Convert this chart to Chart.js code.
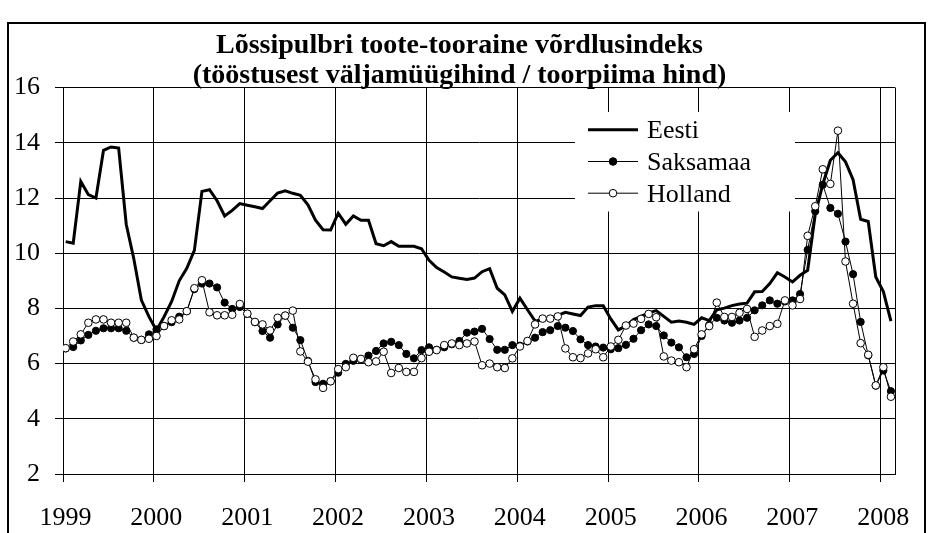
<!DOCTYPE html>
<html>
<head>
<meta charset="utf-8">
<script src="https://cdn.jsdelivr.net/npm/chart.js@4"></script>
<style>
    html, body { margin: 0; padding: 0; background: #fff; }
    #wrap { position: relative; width: 928px; height: 533px; }
</style>
</head>
<body>
<div id="wrap"><canvas id="chart" width="928" height="533"></canvas></div>
<script>
// ── Data (monthly, Jan 1999 – Feb 2008) ───────────────────

const years = ['1999', '2000', '2001', '2002', '2003', '2004', '2005', '2006', '2007', '2008'];

const eesti = [
    10.42, 10.36, 12.6, 12.12, 12.0, 13.73, 13.85, 13.81, 11.05, 9.8, 8.3, 7.7,
    7.2, 7.7, 8.25, 9.0, 9.45, 10.1, 12.24, 12.3, 11.9, 11.35, 11.55, 11.8,
    11.74, 11.68, 11.62, 11.9, 12.18, 12.26, 12.17, 12.1, 11.75, 11.2, 10.85, 10.84,
    11.45, 11.05, 11.35, 11.19, 11.19, 10.34, 10.27, 10.42, 10.25, 10.25, 10.25, 10.16,
    9.74, 9.48, 9.32, 9.14, 9.09, 9.05, 9.1, 9.33, 9.44, 8.73, 8.49, 7.89,
    8.37, 7.95, 7.54, 7.6, 7.63, 7.75, 7.86, 7.8, 7.74, 8.05, 8.1, 8.1,
    7.62, 7.22, 7.37, 7.6, 7.71, 7.84, 7.92, 7.71, 7.5, 7.54, 7.5, 7.42,
    7.66, 7.56, 7.95, 8.01, 8.1, 8.16, 8.19, 8.6, 8.61, 8.9, 9.29, 9.14,
    8.96, 9.2, 9.38, 11.4, 12.5, 13.37, 13.64, 13.31, 12.66, 11.23, 11.15, 9.14,
    8.61, 7.54
];

const saksamaa = [
    6.55, 6.6, 6.84, 7.04, 7.19, 7.28, 7.28, 7.28, 7.19, 6.94, 6.86, 7.06,
    7.24, 7.36, 7.5, 7.7, 7.9, 8.7, 8.9, 8.9, 8.76, 8.21, 7.98, 8.05,
    7.8, 7.5, 7.18, 6.94, 7.42, 7.74, 7.3, 6.85, 6.1, 5.33, 5.27, 5.36,
    5.67, 5.99, 6.1, 6.15, 6.29, 6.46, 6.73, 6.79, 6.67, 6.35, 6.19, 6.49,
    6.59, 6.5, 6.59, 6.7, 6.82, 7.12, 7.16, 7.26, 6.89, 6.5, 6.5, 6.67,
    6.65, 6.8, 6.94, 7.14, 7.21, 7.36, 7.3, 7.18, 6.88, 6.67, 6.62, 6.58,
    6.52, 6.56, 6.68, 6.9, 7.21, 7.42, 7.36, 7.02, 6.76, 6.59, 6.23, 6.35,
    7.0, 7.4, 7.66, 7.56, 7.48, 7.56, 7.66, 7.93, 8.11, 8.29, 8.17, 8.25,
    8.29, 8.52, 10.12, 11.52, 12.48, 11.64, 11.43, 10.42, 9.24, 7.51, 6.3, 5.2,
    5.75, 5.0
];

const holland = [
    6.56, 6.8, 7.06, 7.48, 7.6, 7.6, 7.48, 7.48, 7.48, 6.94, 6.86, 6.9,
    7.0, 7.36, 7.57, 7.6, 7.9, 8.73, 9.02, 7.86, 7.75, 7.75, 7.77, 8.16,
    7.81, 7.51, 7.42, 7.2, 7.66, 7.74, 7.92, 6.44, 6.07, 5.43, 5.12, 5.36,
    5.8, 5.87, 6.21, 6.17, 6.05, 6.08, 6.43, 5.66, 5.84, 5.7, 5.7, 6.2,
    6.43, 6.49, 6.67, 6.73, 6.67, 6.73, 6.8, 5.94, 6.0, 5.87, 5.84, 6.19,
    6.62, 6.82, 7.42, 7.63, 7.63, 7.71, 6.55, 6.23, 6.2, 6.37, 6.52, 6.23,
    6.62, 6.86, 7.38, 7.45, 7.62, 7.8, 7.68, 6.26, 6.11, 6.05, 5.87, 6.52,
    7.06, 7.36, 8.21, 7.69, 7.69, 7.84, 7.98, 6.97, 7.2, 7.36, 7.44, 8.29,
    8.11, 8.34, 10.63, 11.7, 13.04, 12.51, 14.44, 9.7, 8.17, 6.74, 6.32, 5.21,
    5.87, 4.8
];

const seriesNames = ['Eesti', 'Saksamaa', 'Holland'];

const titleLines = [
    'Lõssipulbri toote-tooraine võrdlusindeks',
    '(tööstusest väljamüügihind / toorpiima hind)'
];

// ── Helpers ───────────────────────────────────────────────

const FONT = 'Liberation Serif, Times New Roman, serif';

// points sit about a third of a month past the month boundary, like the source
function toPoints(values) {
    return values.map((v, i) => ({ x: i + 0.35, y: v }));
}

// ── Plugins ───────────────────────────────────────────────

const framePlugin = {
    id: 'frame',
    beforeDraw(chart) {
        const ctx = chart.ctx;
        ctx.save();
        ctx.fillStyle = '#fff';
        ctx.fillRect(0, 0, chart.width, chart.height);
        ctx.strokeStyle = '#000';
        ctx.lineWidth = 2;
        ctx.strokeRect(8, 23, 917, 600);
        ctx.restore();
    },
    beforeDatasetsDraw(chart) {
        const { ctx, chartArea } = chart;
        ctx.save();
        ctx.strokeStyle = '#000';
        ctx.lineWidth = 1;
        ctx.beginPath();
        ctx.moveTo(Math.round(chartArea.right) + 0.5, chartArea.top);
        ctx.lineTo(Math.round(chartArea.right) + 0.5, chartArea.bottom);
        ctx.stroke();
        ctx.restore();
    }
};

const legendPlugin = {
    id: 'insideLegend',
    afterDraw(chart) {
        const ctx = chart.ctx;
        ctx.save();
        ctx.fillStyle = '#fff';
        ctx.fillRect(575, 112, 220, 99.5);

        const rows = [
            { name: seriesNames[0], width: 3, marker: null },
            { name: seriesNames[1], width: 1, marker: '#000' },
            { name: seriesNames[2], width: 1, marker: '#fff' }
        ];
        rows.forEach((r, k) => {
            const base = 138.3 + k * 31.7;
            const ly = base - 8.5;
            ctx.strokeStyle = '#000';
            ctx.lineWidth = r.width;
            ctx.beginPath();
            ctx.moveTo(588, ly);
            ctx.lineTo(638, ly);
            ctx.stroke();
            if (r.marker) {
                ctx.lineWidth = 1;
                ctx.fillStyle = r.marker;
                ctx.beginPath();
                ctx.arc(613, ly, 3.8, 0, Math.PI * 2);
                ctx.fill();
                ctx.stroke();
            }
            ctx.fillStyle = '#000';
            ctx.font = '26px ' + FONT;
            ctx.textAlign = 'left';
            ctx.textBaseline = 'alphabetic';
            ctx.fillText(r.name, 647, base);
        });
        ctx.restore();
    }
};

// ── Chart ─────────────────────────────────────────────────

function renderChart() {
    const ctx = document.getElementById('chart').getContext('2d');

    new Chart(ctx, {
        type: 'line',
        plugins: [framePlugin, legendPlugin],
        data: {
            datasets: [
                {
                    label: seriesNames[0],
                    data: toPoints(eesti),
                    borderColor: '#000',
                    borderWidth: 3,
                    pointRadius: 0,
                    tension: 0,
                    order: 3
                },
                {
                    label: seriesNames[1],
                    data: toPoints(saksamaa),
                    borderColor: '#000',
                    borderWidth: 1,
                    pointRadius: 3.6,
                    pointBackgroundColor: '#000',
                    pointBorderColor: '#000',
                    pointBorderWidth: 1,
                    tension: 0,
                    order: 2
                },
                {
                    label: seriesNames[2],
                    data: toPoints(holland),
                    borderColor: '#000',
                    borderWidth: 1,
                    pointRadius: 3.8,
                    pointBackgroundColor: '#fff',
                    pointBorderColor: '#000',
                    pointBorderWidth: 1,
                    tension: 0,
                    order: 1
                }
            ]
        },
        options: {
            responsive: false,
            animation: false,
            devicePixelRatio: 1,
            layout: { padding: { left: 8, right: 17, top: 0, bottom: 0 } },
            plugins: {
                legend:  { display: false },
                tooltip: { enabled: false },
                title: {
                    display: true,
                    text: titleLines,
                    color: '#000',
                    font: { family: FONT, size: 28, weight: 'bold', lineHeight: 1.1 },
                    padding: { top: 30, bottom: -4 }
                }
            },
            scales: {
                x: {
                    type: 'linear',
                    min: 0,
                    max: 109.9,
                    afterBuildTicks: s => { s.ticks = years.map((_, k) => ({ value: k * 12 })); },
                    afterFit: s => { s.height = 59; },
                    ticks: {
                        callback: v => years[Math.round(v / 12)],
                        color: '#000',
                        font: { family: FONT, size: 26 },
                        labelOffset: 2.5,
                        padding: 21,
                        maxRotation: 0,
                        autoSkip: false
                    },
                    grid:   { color: '#000', lineWidth: 1, tickLength: 8 },
                    border: { color: '#000', width: 1 }
                },
                y: {
                    min: 2,
                    max: 16,
                    afterFit: s => { s.width = 55; },
                    ticks: {
                        stepSize: 2,
                        color: '#000',
                        font: { family: FONT, size: 26 },
                        padding: 15
                    },
                    grid:   { color: '#000', lineWidth: 1, tickLength: 8 },
                    border: { color: '#000', width: 1 }
                }
            }
        }
    });
}

renderChart();
</script>
</body>
</html>
